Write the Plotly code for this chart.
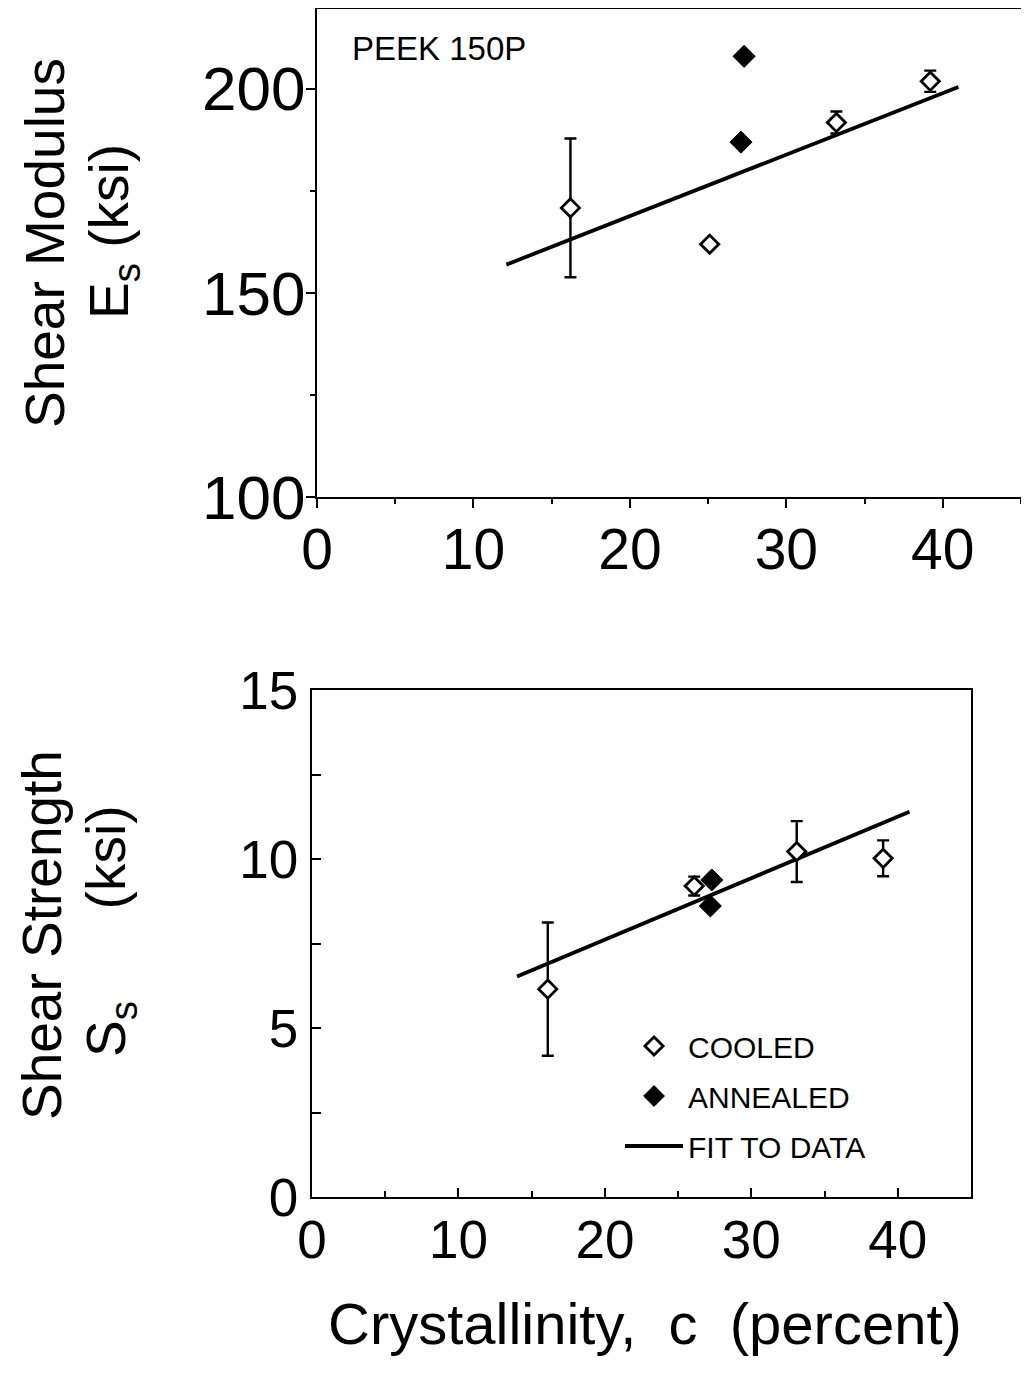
import plotly.graph_objects as go

W, H = 1029, 1374
OFF = 8  # page body margin of the rendered html
FW, FH = W - OFF, H - OFF

# ---------------- data ----------------
# Top panel: shear modulus E_s (ksi) vs crystallinity (percent)
mod_cooled_x = [16.2, 25.1, 33.2, 39.2]
mod_cooled_y = [170.8, 161.9, 191.7, 201.8]
mod_cooled_err = [17.0, None, 2.7, 2.6]
mod_annealed_x = [27.3, 27.1]
mod_annealed_y = [207.9, 186.9]
mod_fit_x = [12.1, 41.0]
mod_fit_y = [156.9, 200.4]

# Bottom panel: shear strength S_s (ksi) vs crystallinity (percent)
str_cooled_x = [16.1, 26.1, 33.1, 39.0]
str_cooled_y = [6.15, 9.2, 10.22, 10.02]
str_cooled_err = [1.97, 0.28, 0.9, 0.53]
str_annealed_x = [27.3, 27.2]
str_annealed_y = [9.38, 8.61]
str_fit_x = [14.0, 40.8]
str_fit_y = [6.52, 11.4]

x_ticks = [0, 10, 20, 30, 40]
mod_ticks = [100, 150, 200]
str_ticks = [0, 5, 10, 15]

FONT = "Liberation Sans, Arial, sans-serif"


def px(x):
    return min(1.0, max(0.0, (x - OFF) / FW))


def py(y):
    return min(1.0, max(0.0, 1 - (y - OFF) / FH))


fig = go.Figure()

open_marker = dict(symbol="diamond", size=14, color="white",
                   line=dict(color="black", width=2.8))
fill_marker = dict(symbol="diamond", size=17, color="black",
                   line=dict(color="black", width=1))
err_style = dict(type="data", visible=True, color="black", thickness=2.4, width=6)
fit_line = dict(color="black", width=3.8)

# ---- top panel traces ----
fig.add_trace(go.Scatter(x=mod_fit_x, y=mod_fit_y, mode="lines", line=fit_line,
                         xaxis="x", yaxis="y", showlegend=False))
fig.add_trace(go.Scatter(x=mod_cooled_x, y=mod_cooled_y, mode="markers",
                         marker=open_marker,
                         error_y=dict(array=mod_cooled_err, **err_style),
                         xaxis="x", yaxis="y", showlegend=False))
fig.add_trace(go.Scatter(x=mod_annealed_x, y=mod_annealed_y, mode="markers",
                         marker=fill_marker,
                         xaxis="x", yaxis="y", showlegend=False))

# ---- bottom panel traces (fit first so markers sit on top) ----
fig.add_trace(go.Scatter(x=str_fit_x, y=str_fit_y, mode="lines", line=fit_line,
                         name="FIT TO DATA", legendgroup="c", legendrank=3,
                         xaxis="x2", yaxis="y2"))
fig.add_trace(go.Scatter(x=str_cooled_x, y=str_cooled_y, mode="markers",
                         marker=open_marker, name="COOLED", legendgroup="a",
                         legendrank=1,
                         error_y=dict(array=str_cooled_err, **err_style),
                         xaxis="x2", yaxis="y2"))
fig.add_trace(go.Scatter(x=str_annealed_x, y=str_annealed_y, mode="markers",
                         marker=fill_marker, name="ANNEALED", legendgroup="b",
                         legendrank=2,
                         xaxis="x2", yaxis="y2"))

axis_common = dict(showline=True, linecolor="black", linewidth=2.4, mirror=True,
                   showgrid=False, zeroline=False, tickcolor="black",
                   tickwidth=2, automargin=False, title=None)

fig.update_layout(
    width=FW, height=FH,
    margin=dict(l=0, r=0, t=0, b=0, pad=0),
    paper_bgcolor="white", plot_bgcolor="white",
    font=dict(family=FONT, color="black"),
    xaxis=dict(domain=[px(317), px(1021)], range=[0, 45], anchor="y",
               tickvals=x_ticks, ticks="outside", ticklen=9,
               minor=dict(dtick=5, tick0=0, ticks="outside", ticklen=5,
                          tickwidth=2, tickcolor="black"),
               tickfont=dict(size=57), ticklabelstandoff=-8, **axis_common),
    yaxis=dict(domain=[py(497), py(9)], range=[100, 219.5], anchor="x",
               tickvals=mod_ticks, ticks="outside", ticklen=9,
               minor=dict(dtick=25, tick0=0, ticks="outside", ticklen=5,
                          tickwidth=2, tickcolor="black"),
               tickfont=dict(size=62), ticklabelstandoff=-12, **axis_common),
    xaxis2=dict(domain=[px(312), px(971)], range=[0, 45], anchor="y2",
                tickvals=x_ticks, ticks="inside", ticklen=9,
                minor=dict(dtick=5, tick0=0, ticks="inside", ticklen=6,
                           tickwidth=2, tickcolor="black"),
                tickfont=dict(size=53), ticklabelstandoff=-5, **axis_common),
    yaxis2=dict(domain=[py(1197), py(690)], range=[0, 15], anchor="x2",
                tickvals=str_ticks, ticks="inside", ticklen=9,
                minor=dict(dtick=2.5, tick0=0, ticks="inside", ticklen=9,
                           tickwidth=2, tickcolor="black"),
                tickfont=dict(size=53), ticklabelstandoff=1, **axis_common),
    legend=dict(x=px(620), y=py(1020), xanchor="left", yanchor="top",
                bgcolor="rgba(0,0,0,0)", font=dict(size=30, family=FONT),
                tracegroupgap=8, itemwidth=58, itemsizing="trace"),
)

ann = [
    dict(text="PEEK 150P", x=px(350), y=py(48), xanchor="left", yanchor="middle",
         font=dict(size=33)),
    dict(text="Shear Modulus", x=px(45), y=py(243), textangle=-90,
         xanchor="center", yanchor="middle", font=dict(size=55)),
    dict(text="E<sub>s</sub> (ksi)", x=px(113), y=py(232), textangle=-90,
         xanchor="center", yanchor="middle", font=dict(size=55)),
    dict(text="Shear Strength", x=px(42), y=py(935), textangle=-90,
         xanchor="center", yanchor="middle", font=dict(size=55)),
    dict(text="S<sub>s</sub>\u00a0\u00a0\u00a0\u00a0\u00a0\u00a0(ksi)", x=px(110), y=py(932),
         textangle=-90, xanchor="center", yanchor="middle", font=dict(size=55)),
    dict(text="Crystallinity,  c  (percent)", x=px(645), y=py(1323),
         xanchor="center", yanchor="middle", font=dict(size=58)),
]
for a in ann:
    a.update(xref="paper", yref="paper", showarrow=False)
fig.update_layout(annotations=ann)

fig.write_html("out.html")
